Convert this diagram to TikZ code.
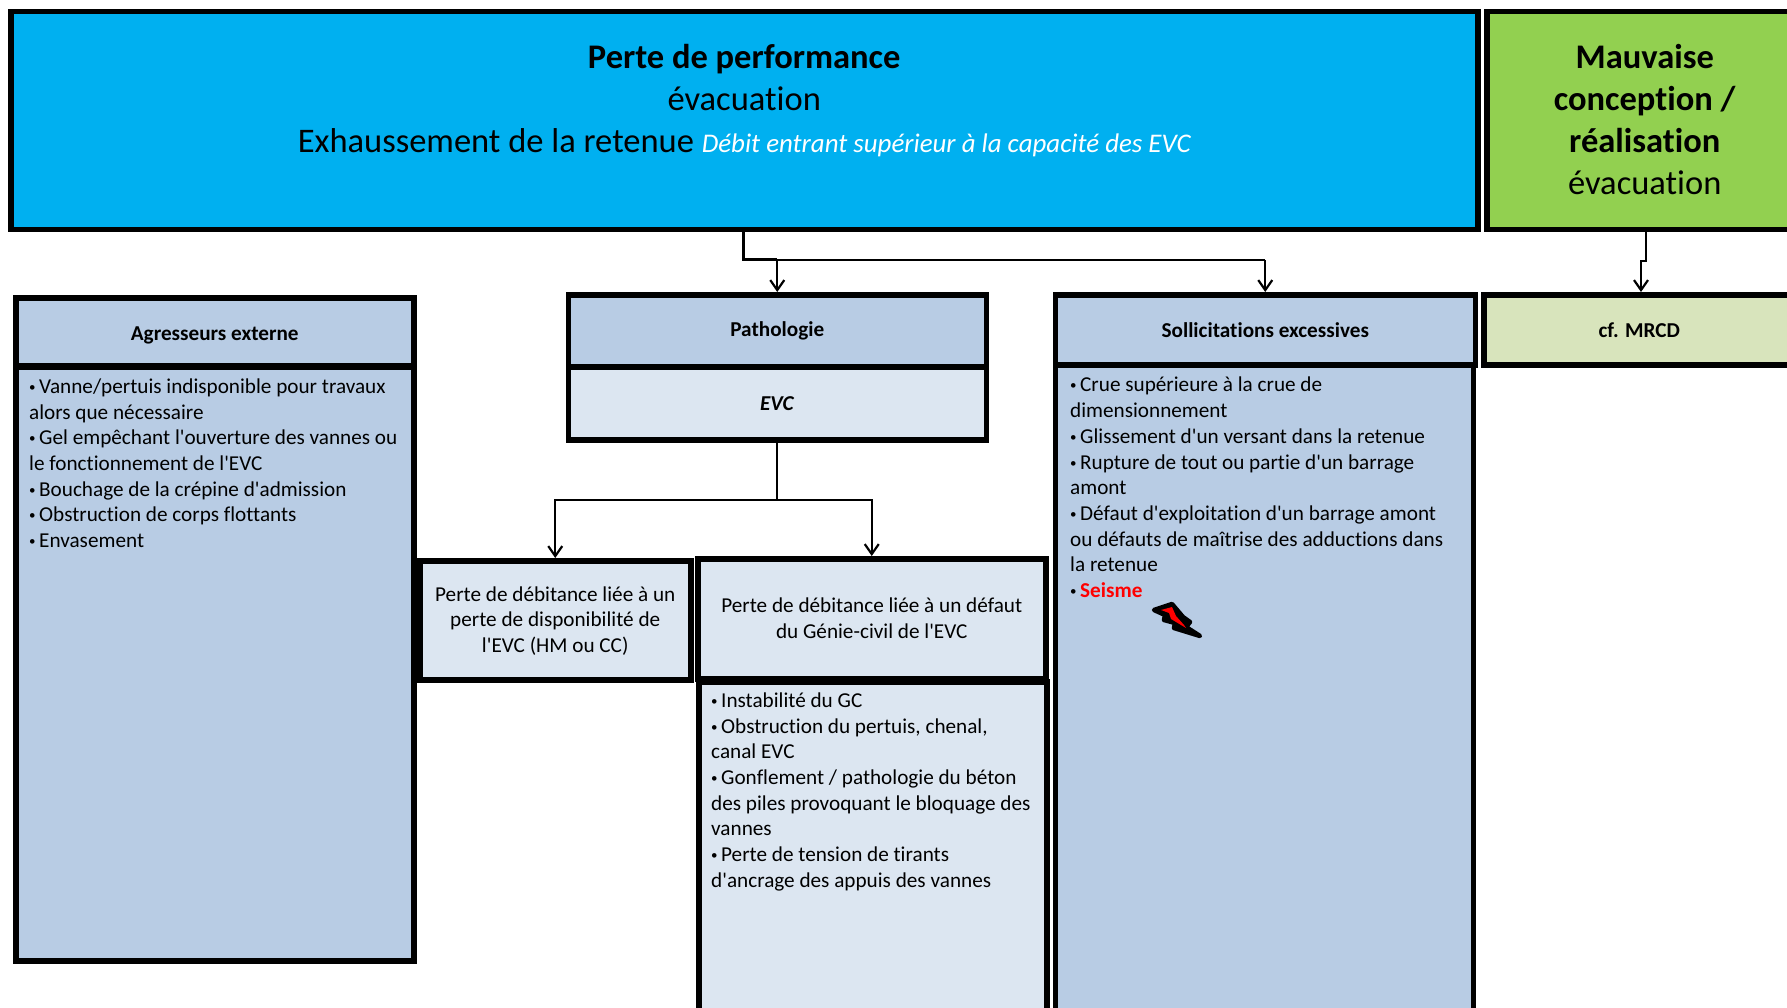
\documentclass[tikz,border=0pt]{standalone}
\usepackage{fontspec}
\setmainfont[Ligatures={CommonOff,TeXOff}]{Carlito}
\usepackage{xcolor}
\usetikzlibrary{positioning,arrows.meta}
\definecolor{topblue}{HTML}{00B0F0}
\definecolor{topgreen}{HTML}{92D050}
\definecolor{headblue}{HTML}{B8CCE4}
\definecolor{lightblue}{HTML}{DCE6F1}
\definecolor{lightgreen}{HTML}{D8E4BC}
\newcommand{\itm}{{\fontsize{13}{13}\selectfont\raisebox{2pt}{\textbullet}}\hspace{3.5pt}}

\begin{document}
\begin{tikzpicture}[
x=1pt,
y=-1pt,
box/.style={draw=black, line width=5.5pt, anchor=north west, inner sep=0pt, align=center, font=\fontsize{21.2}{25.7}\selectfont},
titlebox/.style={box, font=\fontsize{34.5}{42}\selectfont},
listtext/.style={anchor=north west, align=left, inner sep=0pt, font=\fontsize{21.2}{25.7}\selectfont},
link/.style={draw=black, line width=2.2pt},
arrow/.style={link, -{Straight Barb[length=10pt,width=14pt,line width=2.2pt]}}]

\clip (0,0) rectangle (1787,1008);

\node[titlebox, fill=topblue, minimum width=1467pt, minimum height=218pt] (perte) at (8,9) {\textbf{Perte de performance}\\ évacuation\\ Exhaussement de la retenue {\fontsize{26.9}{42}\selectfont\itshape\color{white} Débit entrant supérieur à la capacité des EVC}\\[2pt] \mbox{}};
\node[titlebox, fill=topgreen, minimum width=316pt, minimum height=218pt] (mauvaise) at (1484,9) {\textbf{Mauvaise}\\ \textbf{conception /}\\ \textbf{réalisation}\\ évacuation\\[-40pt] \mbox{}};

\node[box, fill=headblue, minimum width=398pt, minimum height=68pt] (agresseurs) at (13,295) {\rule{0pt}{21pt}\textbf{Agresseurs externe}};
\node[box, fill=headblue, minimum width=398pt, minimum height=594pt] (agrbody) at (13,364) {};
\node[listtext] (agrtext) at (29,378.5) {\itm Vanne/pertuis indisponible pour travaux\\ alors que nécessaire\\ \itm Gel empêchant l'ouverture des vannes ou\\ le fonctionnement de l'EVC\\ \itm Bouchage de la crépine d'admission\\ \itm Obstruction de corps flottants\\ \itm Envasement};

\node[box, fill=headblue, minimum width=418pt, minimum height=72pt] (patho) at (565.5,292) {\textbf{Pathologie}};
\node[box, fill=lightblue, minimum width=418pt, minimum height=73pt] (evc) at (565.5,364) {\textbf{\textit{EVC}}};

\node[box, fill=lightblue, minimum width=271pt, minimum height=119pt] (dispo) at (417,558) {Perte de débitance liée à un\\ perte de disponibilité de\\ l'EVC (HM ou CC)\\[-24pt] \mbox{}};
\node[box, fill=lightblue, minimum width=348pt, minimum height=120pt] (defaut) at (695,556) {Perte de débitance liée à un défaut\\ du Génie-civil de l'EVC\\[-24pt] \mbox{}};
\node[box, fill=lightblue, minimum width=348pt, minimum height=340pt] (gcbody) at (696,679) {};
\node[listtext] (gctext) at (711,692.5) {\itm Instabilité du GC\\ \itm Obstruction du pertuis, chenal,\\ canal EVC\\ \itm Gonflement / pathologie du béton\\ des piles provoquant le bloquage des\\ vannes\\ \itm Perte de tension de tirants\\ d'ancrage des appuis des vannes};

\node[box, fill=headblue, minimum width=420pt, minimum height=70pt] (solli) at (1052.5,292) {\textbf{Sollicitations excessives}};
\node[box, fill=headblue, minimum width=418pt, minimum height=660pt] (sollibody) at (1052.5,362) {};
\node[listtext] (sollitext) at (1070,377) {\itm Crue supérieure à la crue de\\ dimensionnement\\ \itm Glissement d'un versant dans la retenue\\ \itm Rupture de tout ou partie d'un barrage\\ amont\\ \itm Défaut d'exploitation d'un barrage amont\\ ou défauts de maîtrise des adductions dans\\ la retenue\\ \itm \textbf{\color{red}Seisme}};

\node[box, fill=lightgreen, minimum width=311pt, minimum height=70pt] (mrcd) at (1481,292) {\textbf{cf. MRCD}};

\coordinate (perteout) at (perte.south -| 743,0);
\coordinate (pertemid) at (743,260);
\coordinate (mauvout) at (mauvaise.south -| 1646,0);
\coordinate (mauvmid) at (1646,261);
\coordinate (mrcdin) at (mrcd.north -| 1641,0);
\coordinate (evcmid) at (evc.south |- 0,500);

\draw[link, line width=3pt] (perteout) -- (pertemid) -- (patho.north |- pertemid);
\draw[arrow] (patho.north |- pertemid) -- (patho.north);
\draw[link] (patho.north |- pertemid) -- (solli.north |- pertemid);
\draw[arrow] (solli.north |- pertemid) -- (solli.north);
\draw[arrow] (mauvout) -- (mauvmid) -- (mrcdin |- mauvmid) -- (mrcdin);
\draw[arrow] (evc.south) -- (evcmid) -| (dispo.north);
\draw[arrow] (evcmid) -| (defaut.north);

\fill[black, draw=black, line width=4.5pt, line join=round] (1154,610) -- (1172,604) -- (1183,617) -- (1190,622) -- (1186,627) -- (1200,636) -- (1174,628) -- (1175,623) -- (1164,620) -- (1165,615) -- cycle;
\fill[red] (1161,610) -- (1172,607) -- (1176,616) -- (1184,625) -- (1186,628) -- (1171,619) -- (1169,613) -- cycle;
\end{tikzpicture}
\end{document}
